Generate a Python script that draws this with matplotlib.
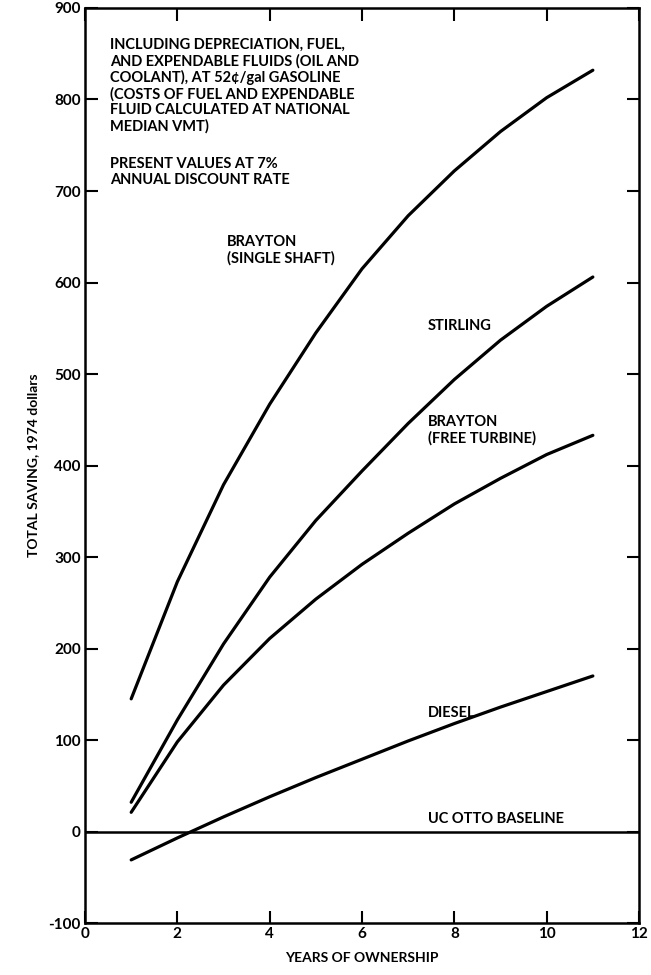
import numpy as np
import matplotlib
matplotlib.use('Agg')
import matplotlib.pyplot as plt

plt.rcParams['font.family'] = ['Lato', 'DejaVu Sans']
plt.rcParams['axes.unicode_minus'] = False

# years of ownership
years = [1, 2, 3, 4, 5, 6, 7, 8, 9, 10, 11]

# total saving, 1974 dollars
brayton_single = [145, 273, 379, 467, 545, 615, 673, 722, 765, 802, 832]
stirling = [32, 122, 205, 278, 340, 394, 446, 494, 537, 574, 606]
brayton_free = [21, 98, 160, 211, 254, 292, 326, 358, 386, 412, 433]
diesel = [-31, -7, 16, 38, 59, 79, 99, 118, 136, 153, 170]
baseline = 0

note1 = ('INCLUDING DEPRECIATION, FUEL,\n'
         'AND EXPENDABLE FLUIDS (OIL AND\n'
         'COOLANT), AT 52\u00a2/gal GASOLINE\n'
         '(COSTS OF FUEL AND EXPENDABLE\n'
         'FLUID CALCULATED AT NATIONAL\n'
         'MEDIAN VMT)')
note2 = 'PRESENT VALUES AT 7%\nANNUAL DISCOUNT RATE'

fig = plt.figure(figsize=(6.51, 9.75), dpi=100)
ax = fig.add_axes([0.1306, 0.0533, 0.8510, 0.9385])

for ys in [brayton_single, stirling, brayton_free, diesel]:
    ax.plot(years, ys, color='black', lw=2.3, solid_capstyle='round',
            solid_joinstyle='round')
ax.axhline(baseline, color='black', lw=1.8)

ax.set_xlim(0, 12)
ax.set_ylim(-100, 900)
ax.set_xticks(np.arange(0, 13, 2))
ax.set_yticks(np.arange(-100, 901, 100))
ax.tick_params(direction='in', top=True, right=True, length=9, width=1.5,
               labelsize=11, pad=3)
for lab in ax.get_xticklabels() + ax.get_yticklabels():
    lab.set_fontweight('bold')
for s in ax.spines.values():
    s.set_linewidth(1.8)

ax.set_xlabel('YEARS OF OWNERSHIP', fontsize=10, fontweight='bold', labelpad=8)
ax.set_ylabel('TOTAL SAVING, 1974 dollars', fontsize=10, fontweight='bold',
              labelpad=7)

tk = dict(fontsize=10.5, fontweight='bold', color='black', linespacing=1.15)
ax.text(0.54, 867, note1, va='top', ha='left', **tk)
ax.text(0.54, 737, note2, va='top', ha='left', **tk)
ax.text(3.08, 652, 'BRAYTON\n(SINGLE SHAFT)', va='top', ha='left', **tk)
ax.text(7.43, 553, 'STIRLING', va='center', ha='left', **tk)
ax.text(7.43, 455, 'BRAYTON\n(FREE TURBINE)', va='top', ha='left', **tk)
ax.text(7.43, 130, 'DIESEL', va='center', ha='left', **tk)
ax.text(7.43, 6, 'UC OTTO BASELINE', va='bottom', ha='left', **tk)

fig.savefig('out.png', dpi=100)
